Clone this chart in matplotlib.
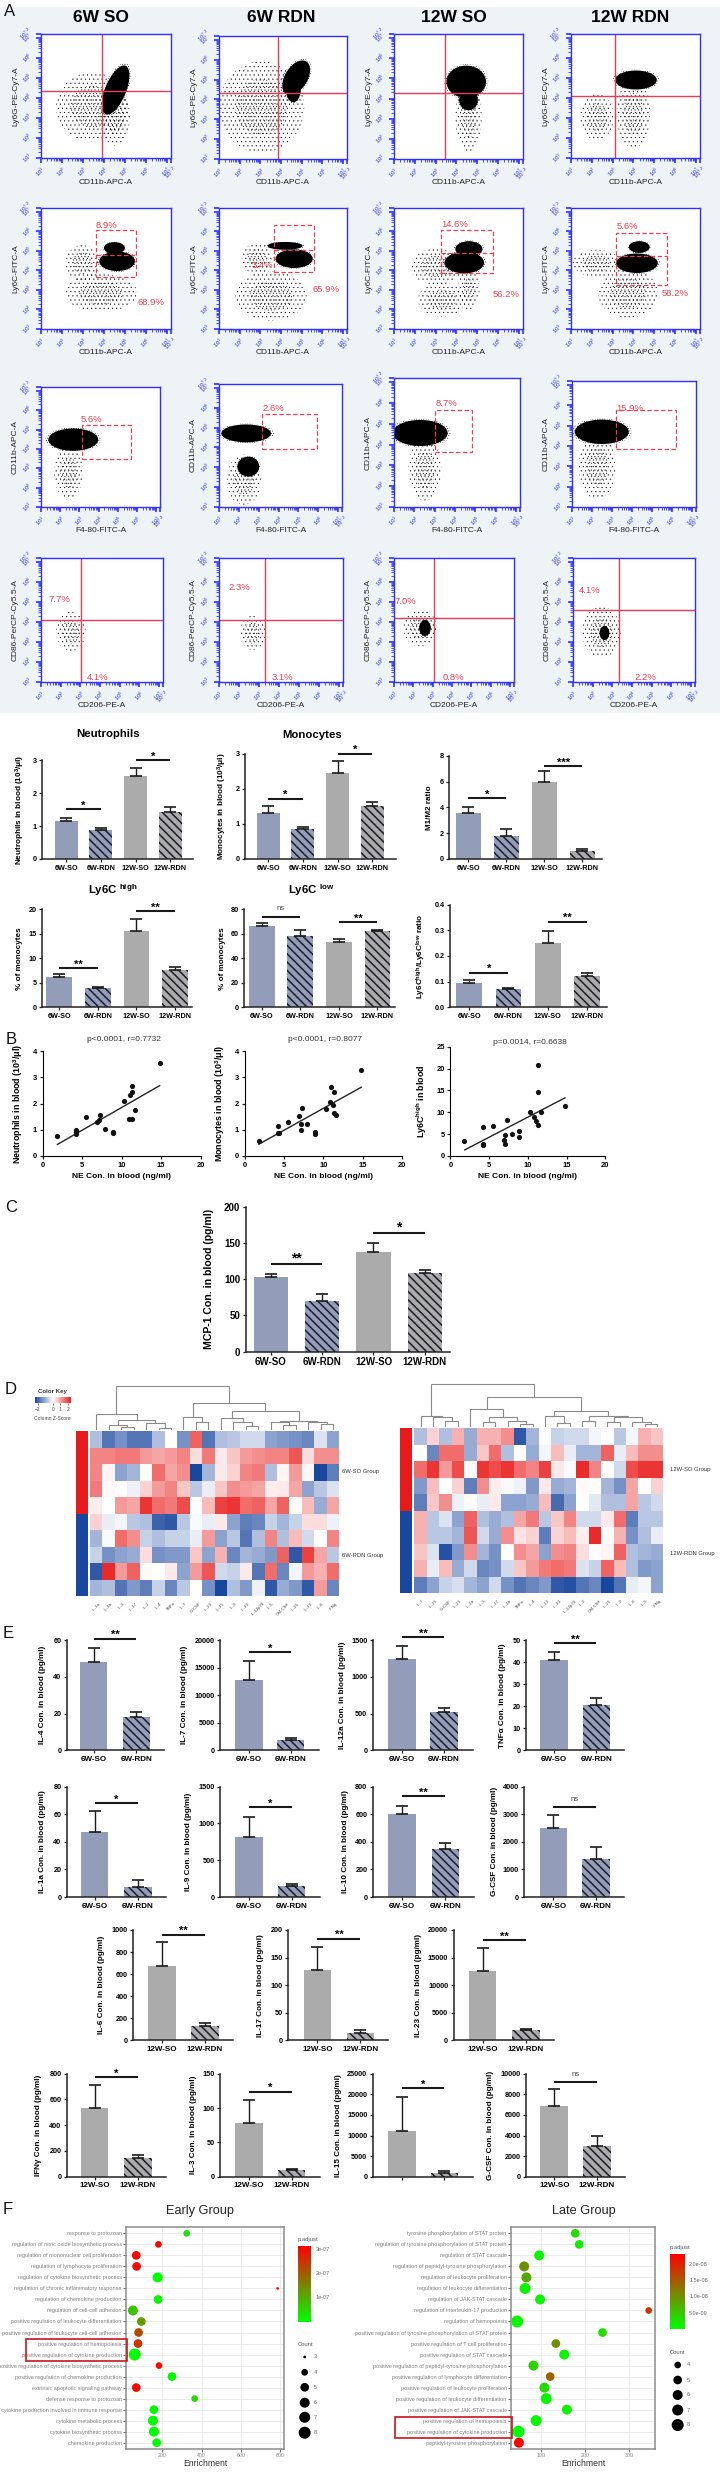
import warnings
import numpy as np
import matplotlib
matplotlib.use("Agg")
import matplotlib.pyplot as plt
from matplotlib.colors import LinearSegmentedColormap, Normalize
from matplotlib.cm import ScalarMappable
from matplotlib.patches import Ellipse, Rectangle

warnings.filterwarnings("ignore")

plt.rcParams["font.family"] = ["Liberation Sans", "DejaVu Sans"]
plt.rcParams["mathtext.fontset"] = "custom"
plt.rcParams["mathtext.rm"] = "Liberation Sans"
plt.rcParams["mathtext.bf"] = "Liberation Sans:bold"
plt.rcParams["mathtext.it"] = "Liberation Sans:italic"
plt.rcParams["hatch.linewidth"] = 1.1

W, H = 720, 2474
ZX = 720 / 1568  # full width crops were read on a 1568 wide scale

# ---- flow cytometry panels, values in decades
titles = ["6W SO", "6W RDN", "12W SO", "12W RDN"]

row1_dense = [
    [(4.56, 4.4, 1.0, 2.6, -21)],
    [(4.74, 5.1, 1.1, 1.9, -30), (4.6, 4.46, 0.7, 1.2, 0)],
    [(4.47, 4.83, 1.9, 1.6, 0), (4.58, 3.92, 0.9, 1.0, 0)],
    [(4.12, 4.9, 2.0, 0.95, 0)],
]
row1_sparse = [
    [(3.44, 3.56, 3.0, 3.0, 0), (4.55, 3.06, 1.2, 2.5, 0)],
    [(3.06, 3.62, 3.6, 4.0, 0)],
    [(4.58, 3.09, 1.1, 3.0, 0)],
    [(4.0, 3.22, 1.4, 3.0, 0), (2.25, 3.05, 1.4, 2.0, 0)],
]
row1_cross = [(3.9, 4.35), (3.86, 4.34), (3.43, 4.27), (3.13, 4.09)]

row2_dense = [
    [(4.63, 4.47, 1.7, 1.0, 0), (4.5, 5.15, 1.0, 0.6, 0)],
    [(4.64, 4.6, 1.8, 0.95, 0), (4.2, 5.26, 1.7, 0.4, 0)],
    [(4.38, 4.4, 1.9, 1.1, 0), (4.6, 5.1, 1.3, 0.8, 0)],
    [(4.17, 4.37, 2.0, 1.0, 0), (4.28, 5.2, 1.0, 0.6, 0)],
]
row2_sparse = [
    [(3.86, 2.85, 3.0, 1.7, 0), (2.98, 4.38, 1.4, 1.6, 0)],
    [(3.52, 2.7, 3.0, 2.2, 0), (2.85, 4.6, 1.3, 1.4, 0)],
    [(4.6, 3.04, 0.9, 1.8, 0), (3.04, 4.2, 2.2, 1.6, 0), (3.3, 2.5, 2.0, 1.5, 0)],
    [(3.74, 2.84, 2.5, 2.2, 0), (2.23, 4.37, 2.0, 1.2, 0)],
]
row2_gates = [
    (3.6, 5.53, 3.67, 6.06, 4.81),
    (3.66, 5.6, 3.93, 6.32, 5.05),
    (3.27, 5.76, 3.85, 6.08, 4.88),
    (3.16, 5.62, 3.25, 5.94, 4.74),
]
row2_labels = [
    [("8.9%", 4.14, 6.32), ("68.9%", 6.27, 2.37)],
    [("3.4%", 3.08, 4.27), ("65.9%", 6.16, 3.01)],
    [("14.6%", 3.93, 6.35), ("56.2%", 6.38, 2.75)],
    [("5.6%", 3.7, 6.25), ("58.2%", 6.01, 2.84)],
]

row3_dense = [
    [(2.68, 4.48, 2.6, 1.15, 0)],
    [(2.37, 4.71, 2.5, 0.9, 0), (2.48, 3.04, 1.1, 1.0, 0)],
    [(2.29, 4.56, 2.7, 1.25, 0)],
    [(2.49, 4.7, 2.7, 1.2, 0)],
]
row3_sparse = [
    [(2.44, 2.76, 1.3, 2.4, 0)],
    [(2.25, 2.37, 1.5, 2.2, 0)],
    [(2.52, 2.8, 1.4, 2.6, 0)],
    [(2.26, 2.99, 1.6, 2.8, 0)],
]
row3_gates = [
    (3.12, 5.69, 3.5, 5.24, None),
    (3.18, 5.95, 3.91, 5.67, None),
    (3.04, 4.85, 3.64, 5.68, None),
    (3.18, 6.22, 3.84, 5.77, None),
]
row3_labels = [
    [("5.6%", 3.64, 5.52)],
    [("2.6%", 3.75, 5.95)],
    [("8.7%", 3.58, 5.97)],
    [("15.9%", 3.87, 5.86)],
]

row4_dense = [[], [], [(2.6, 3.7, 0.6, 0.8, 0)], [(2.6, 3.45, 0.5, 0.7, 0)]]
row4_sparse = [
    [(2.52, 3.53, 1.3, 1.7, 0)],
    [(2.68, 3.45, 1.1, 1.5, 0)],
    [(2.35, 3.7, 1.5, 1.6, 0)],
    [(2.45, 3.49, 1.7, 2.2, 0)],
]
row4_cross = [(3.04, 4.12), (3.32, 4.08), (3.08, 4.18), (3.34, 4.59)]
row4_labels = [
    [("7.7%", 1.94, 5.15), ("4.1%", 3.86, 1.2)],
    [("2.3%", 2.03, 5.72), ("3.1%", 4.15, 1.2)],
    [("7.0%", 1.61, 5.02), ("0.8%", 4.07, 1.2)],
    [("4.1%", 1.84, 5.56), ("2.2%", 4.68, 1.2)],
]

# ---- bar panels
groups4 = ["6W-SO", "6W-RDN", "12W-SO", "12W-RDN"]
groups6w = ["6W-SO", "6W-RDN"]
groups12w = ["12W-SO", "12W-RDN"]

neut_vals, neut_tops = [1.15, 0.87, 2.52, 1.44], [1.25, 0.95, 2.78, 1.58]
neut_sig = [(0, 1, 1.51, "*"), (2, 3, 3.0, "*")]
mono_vals, mono_tops = [1.3, 0.85, 2.45, 1.5], [1.5, 0.92, 2.78, 1.63]
mono_sig = [(0, 1, 1.72, "*"), (2, 3, 3.0, "*")]
m1m2_vals, m1m2_tops = [3.6, 1.8, 5.97, 0.6], [4.05, 2.3, 6.8, 0.8]
m1m2_sig = [(0, 1, 4.72, "*"), (2, 3, 7.2, "***")]
high_vals, high_tops = [6.1, 3.9, 15.6, 7.6], [6.8, 4.2, 18.0, 8.3]
high_sig = [(0, 1, 8.0, "**"), (2, 3, 19.65, "**")]
low_vals, low_tops = [66, 58.5, 53, 62], [69, 63.5, 55.5, 63.5]
low_sig = [(0, 1, 74, "ns"), (2, 3, 69.5, "**")]
ratio_vals, ratio_tops = [0.095, 0.07, 0.25, 0.123], [0.105, 0.075, 0.298, 0.135]
ratio_sig = [(0, 1, 0.135, "*"), (2, 3, 0.334, "**")]
mcp_vals, mcp_tops = [103, 70, 138, 108], [106.5, 80, 150.5, 112.5]
mcp_sig = [(0, 1, 120.7, "**"), (2, 3, 164.3, "*")]

il4_vals, il4_tops = [48, 18.3], [56, 21]
il7_vals, il7_tops = [12700, 1950], [16200, 2200]
il12_vals, il12_tops = [1250, 520], [1420, 580]
tnf_vals, tnf_tops = [41, 20.5], [44.5, 23.8]
il1a_vals, il1a_tops = [47, 7], [62.5, 12]
il9_vals, il9_tops = [820, 155], [1090, 180]
il10_vals, il10_tops = [605, 350], [660, 390]
gcsf6_vals, gcsf6_tops = [2500, 1370], [2980, 1810]
il6_vals, il6_tops = [678, 130], [895, 155]
il17_vals, il17_tops = [127, 14], [169, 18]
il23_vals, il23_tops = [12600, 1800], [16700, 2100]
ifn_vals, ifn_tops = [530, 145], [712, 165]
il3_vals, il3_tops = [78.5, 9.5], [112, 11.5]
il15_vals, il15_tops = [11200, 1000], [19300, 1350]
gcsf12_vals, gcsf12_tops = [6850, 3000], [8550, 4000]

# ---- correlation panels
ne_neut = [1.8, 4.2, 4.2, 4.25, 5.5, 6.9, 7.15, 7.3, 7.85, 8.9, 8.9, 10.3, 10.9, 11.3, 11.05, 11.3, 11.3, 11.7, 14.8]
neut_y = [0.77, 1.0, 0.93, 0.85, 1.5, 1.3, 1.37, 1.56, 1.03, 0.91, 0.89, 2.1, 1.4, 1.42, 2.32, 2.43, 2.67, 1.74, 3.56]
neut_fit_x, neut_fit_y = [1.86, 14.8], [0.44, 2.68]
ne_mono = [1.8, 4.2, 4.2, 4.3, 5.5, 6.9, 7.1, 7.1, 7.3, 7.85, 8.9, 8.9, 10.3, 10.85, 11.0, 11.3, 11.25, 11.35, 11.65, 14.8]
mono_y = [0.56, 1.13, 0.87, 0.87, 1.29, 1.54, 1.21, 0.99, 1.81, 1.21, 0.93, 0.85, 1.78, 2.04, 2.62, 2.43, 1.95, 1.62, 1.57, 3.28]
mono_fit_x, mono_fit_y = [1.8, 14.8], [0.45, 2.62]
ne_ly6c = [1.8, 4.2, 4.2, 4.25, 5.5, 6.9, 7.05, 7.05, 7.3, 7.9, 8.9, 8.9, 10.3, 10.85, 11.0, 11.3, 11.3, 11.3, 11.7, 14.8]
ly6c_y = [3.35, 6.7, 2.65, 2.45, 6.85, 3.6, 4.7, 2.8, 8.15, 5.0, 5.7, 4.4, 10.1, 8.9, 8.1, 7.1, 20.7, 14.6, 10.0, 11.4]
ly6c_fit_x, ly6c_fit_y = [1.85, 14.8], [1.4, 13.3]

# ---- heatmaps
cols_6w = ["IL-1a", "IL-1b", "IL-3", "IL-17", "IL-2", "IL-4", "TNFa", "IL-7", "G-CSF", "IL-23",
           "IL-15", "IL-9", "IL-10", "IL-12p70", "IL-5", "GM-CSF", "IL-21", "IL-13", "IL-6", "IFNg"]
cols_12w = ["IL-7", "IL-15", "G-CSF", "IL-23", "IL-1a", "IL-3", "IL-17", "IL-1b", "TNFa", "IL-4",
            "IL-13", "IL-10", "IL-12p70", "IL-2", "GM-CSF", "IL-21", "IL-9", "IL-6", "IL-5", "IFNg"]
z_6w = [
    [-.7, -1.5, -1.2, -1.5, -1.5, -.7, 0, -1.2, 1.4, -1.5, -.7, -.6, -.4, -.4, -1, -1.1, -1.2, -1.3, -.3, -1],
    [1.1, 1.1, 1.2, 1.2, .9, .8, .9, 1.1, .3, 1.2, .2, .5, .9, 1, 1.1, 1.1, 1.5, .3, 1, 1],
    [1.1, .1, -1, -.8, 0, 1.3, .8, 1, -2, -.8, .2, .4, 1.1, 1.2, -.7, .1, .9, .07, -2, -1.4],
    [1.2, .05, 0, -.15, .4, .9, 1.1, .5, -.6, -.2, .5, 1, .9, .8, .15, .2, .8, -1, -.6, -.3],
    [.15, 0, .9, .8, 1.8, 1.3, 1.2, 1.6, 0, .6, 1.7, 1.8, 1.3, 1.4, .8, 1.4, .03, .6, -.9, .8],
    [.4, -.2, -.1, -.6, -.7, -1.7, -1.8, -.6, -.05, -.2, .2, -1, -1.4, -1.3, -.5, -.8, -.5, .3, .3, -.15],
    [-.8, -.05, 1.3, 1, -.5, -.7, -.5, -.5, -.2, .9, -1, -.6, -1.5, -.7, 1.1, -.7, .6, -.4, 0, 1.1],
    [-.5, -1.2, -1, -.9, .3, -1.2, -1.1, -1.1, .5, -1, .7, -1.3, -.8, -.9, -1.1, 1.4, -1.8, 1.7, .8, -.6],
    [-1.8, 1.9, .9, 1.4, .05, 0, .2, -1, .9, 1.5, -.4, -.5, .2, -1.5, 1.3, -1.3, -.1, .9, .7, 1.3],
    [-.8, -.7, -1.5, -1.1, -1.4, -.5, -1.3, -.6, 0, -1.2, -2, -.7, -1.1, -.15, -1.8, -.9, -1.1, -1.8, .9, -1.3],
]
z_12w = [
    [-.7, .4, -.7, .7, -.9, .7, .7, 1, -1.8, -.8, -.03, -.5, -.4, -.4, -.1, 0, -.6, -.1, .7, .5],
    [0, -1.3, 1.3, 1.3, -.9, .5, 1.3, -.7, 0, -.9, -.1, .6, -.2, -.8, -.8, 1.4, -.2, .6, 1, 1],
    [1.3, 1.8, .9, 1.6, -.05, 1.8, 1.6, 1.8, 1.3, 1.1, 1.7, .2, -.05, 1.9, 1.1, .03, -.4, 1.6, 1.8, 1.8],
    [-1.1, .6, 0, .4, -1.4, 1, .15, -.07, -.15, -1.1, .2, -.9, -.8, .04, .02, -.8, -1.2, .8, 0, .4],
    [-1.4, .5, 1, -.15, .03, -.2, .2, -1, -1, -.9, .6, -1.6, -1, 0, -.25, -.7, -.7, .8, -.6, -.4],
    [.7, -.6, -.3, -1, 1.4, -.7, -.9, -.7, .8, 1.2, -.6, .5, 1.1, -.4, -.4, .2, 1.3, -1.4, -.6, -.6],
    [.7, -.6, -.6, -.8, 1.5, -.4, -.9, 1, .25, .4, -1.4, .4, .6, .15, 1.9, .04, .7, -1.2, -.7, -.2],
    [.5, -.3, -1.9, -1.1, 1, -.8, -1.2, .02, 1, .8, -1, 1, 1.1, .3, 0, .1, 1.4, -.7, -.8, -.9],
    [.7, -.2, .6, -.9, -.4, -1.3, -1.2, -.4, .5, .9, 1.2, 1.3, 1.2, -.3, -.5, 1.4, .6, -.7, -1.1, -1],
    [-1.4, -1, -.5, -.35, -.8, -1, -.4, -1.2, -1.5, -1.3, -1.1, -1.8, -1.9, -1.5, -1.3, -2, -1.5, -.2, -.1, -1],
]
# (merge height, left, right), leaves are column numbers
tree_6w = (130, (48, 0, (30, (15, 1, (8, 2, 3)), (21, 4, (6, 5, 6)))),
           (78, (38, 7, (23, 8, 9)),
            (56, (36, 10, (23, 11, (12, 12, 13))),
             (26, (23, 14, (15, 15, 16)), (23, 17, (16, 18, 19))))))
tree_12w = (127, (32, 0, (28, 1, (18, 2, 3))),
            (88, (52, 4, (28, (15, 5, 6), (18, 7, (7, 8, 9)))),
             (48, (32, 10, (12, 11, 12)),
              (32, (18, 13, 14), (30, (15, 15, 16), (15, 17, (8, 18, 19)))))))

# ---- enrichment dot plots
early_terms = ["response to protozoan", "regulation of nitric oxide biosynthetic process",
               "regulation of mononuclear cell proliferation", "regulation of lymphocyte proliferation",
               "regulation of cytokine biosynthetic process", "regulation of chronic inflammatory response",
               "regulation of chemokine production", "regulation of cell-cell adhesion",
               "positive regulation of leukocyte differentiation", "positive regulation of leukocyte cell-cell adhesion",
               "positive regulation of hemopoiesis", "positive regulation of cytokine production",
               "positive regulation of cytokine biosynthetic process", "positive regulation of chemokine production",
               "extrinsic apoptotic signaling pathway", "defense response to protozoan",
               "cytokine production involved in immune response", "cytokine metabolic process",
               "cytokine biosynthetic process", "chemokine production"]
early_enrich = [324, 180, 67, 69, 176, 788, 178, 50, 93, 79, 76, 59, 183, 249, 67, 365, 157, 152, 157, 171]
early_count = [4, 4, 5, 5, 6, 3, 5, 6, 5, 5, 5, 8, 4, 5, 5, 4, 5, 6, 6, 5]
early_padj = [.4e-7, 3e-7, 3e-7, 3e-7, 0, 3e-7, .1e-7, .7e-7, 1.2e-7, 2.2e-7,
              2.5e-7, 0, 3e-7, .1e-7, 3e-7, .5e-7, .05e-7, 0, 0, .05e-7]

late_terms = ["tyrosine phosphorylation of STAT protein", "regulation of tyrosine phosphorylation of STAT protein",
              "regulation of STAT cascade", "regulation of peptidyl-tyrosine phosphorylation",
              "regulation of leukocyte proliferation", "regulation of leukocyte differentiation",
              "regulation of JAK-STAT cascade", "regulation of interleukin-17 production",
              "regulation of hemopoiesis", "positive regulation of tyrosine phosphorylation of STAT protein",
              "positive regulation of T cell proliferation", "positive regulation of STAT cascade",
              "positive regulation of peptidyl-tyrosine phosphorylation", "positive regulation of lymphocyte differentiation",
              "positive regulation of leukocyte proliferation", "positive regulation of leukocyte differentiation",
              "positive regulation of JAK-STAT cascade", "positive regulation of hemopoiesis",
              "positive regulation of cytokine production", "peptidyl-tyrosine phosphorylation"]
late_enrich = [177, 186, 95, 61, 66, 63, 97, 344, 45, 239, 133, 152, 82, 120, 107, 111, 158, 88, 48, 49]
late_count = [5, 5, 6, 6, 6, 7, 6, 4, 8, 5, 5, 6, 6, 5, 6, 7, 6, 7, 8, 6]
late_padj = [.3e-8, .2e-8, .1e-8, 1.0e-8, .8e-8, .1e-8, .1e-8, 1.8e-8, .1e-8, .3e-8,
             1.0e-8, .1e-8, .4e-8, 1.4e-8, .3e-8, .1e-8, .1e-8, .1e-8, 0, 2.28e-8]

# ---- drawing
BLUE = "#939db9"
GREY = "#ababab"
FLOW = "#2f2fff"
RED = "#ee3b55"
DOT_DIAM = {3: 2.7, 4: 6.7, 5: 8.7, 6: 10, 7: 11, 8: 12}  # px

fig = plt.figure(figsize=(W / 100, H / 100), dpi=100, facecolor="white")
fig.add_artist(Rectangle((0, 1 - 713 / H), 1, 706 / H, transform=fig.transFigure,
                         facecolor="#eef3f6", edgecolor="none", zorder=-5))


def axes_px(x0, y0, x1, y1, **kw):
    return fig.add_axes([x0 / W, 1 - y1 / H, (x1 - x0) / W, (y1 - y0) / H], **kw)


ov = axes_px(0, 0, W, H, zorder=20)
ov.set_xlim(0, W)
ov.set_ylim(H, 0)
ov.axis("off")
ov.patch.set_alpha(0)


class Stipple(Ellipse):
    # fine dots, the bar stripes keep the thick hatch line
    def draw(self, renderer):
        with plt.rc_context({"hatch.linewidth": 0.3}):
            super().draw(renderer)


def stipple(ax, cx, cy, w, h, ang, pattern):
    with plt.rc_context({"hatch.linewidth": 0.3}):
        ax.add_patch(Stipple((cx, cy), w, h, angle=ang, facecolor="none", edgecolor="#111111",
                             hatch=pattern, linewidth=0))


def flow_panel(box, dense, sparse, xlabel, ylabel, cross=None, gate=None, labels=()):
    x0, y0, x1, y1 = box
    ax = axes_px(x0, y0, x1, y1, facecolor="white")
    ax.set_xlim(1, 7.2)
    ax.set_ylim(1, 7.2)
    for cx, cy, w, h, ang in sparse:
        stipple(ax, cx, cy, w * 1.15, h * 1.15, ang, "....")
        stipple(ax, cx, cy, w * 0.7, h * 0.7, ang, ".....")
    for cx, cy, w, h, ang in dense:
        stipple(ax, cx, cy, w * 1.12, h * 1.1, ang, ".......")
        ax.add_patch(Ellipse((cx, cy), w, h, angle=ang, facecolor="black", edgecolor="none"))
    if cross is not None:
        ax.axvline(cross[0], color=RED, lw=1)
        ax.axhline(cross[1], color=RED, lw=1)
    if gate is not None:
        g0, g1, g2, g3, mid = gate
        ax.add_patch(Rectangle((g0, g2), g1 - g0, g3 - g2, fill=False, edgecolor=RED, lw=0.9, ls=(0, (3.5, 2))))
        if mid is not None:
            ax.plot([g0, g1], [mid, mid], color=RED, lw=0.9, ls=(0, (3.5, 2)))
    for text, tx, ty in labels:
        ax.text(tx, ty, text, color=RED, fontsize=6.8, ha="center", va="center", clip_on=False)
    major = [1, 2, 3, 4, 5, 6, 7, 7.2]
    minor = [d + np.log10(k) for d in range(1, 7) for k in range(2, 10)]
    names = ["$10^{%s}$" % m for m in [1, 2, 3, 4, 5, 6, 7, 7.2]]
    for axis in (ax.xaxis, ax.yaxis):
        axis.set_ticks(major)
        axis.set_ticks(minor, minor=True)
    ax.set_xticklabels(names, rotation=45, fontsize=4.4, color=FLOW, ha="center")
    ax.set_yticklabels(names, rotation=45, fontsize=4.4, color=FLOW, va="center")
    ax.tick_params(which="major", length=3.5, width=1.2, color=FLOW, pad=1)
    ax.tick_params(which="minor", length=2.5, width=0.6, color=FLOW)
    for s in ax.spines.values():
        s.set_color(FLOW)
        s.set_linewidth(1)
    ax.set_xlabel(xlabel, fontsize=6, color="#222222")
    ax.set_ylabel(ylabel, fontsize=6, color="#222222")
    ax.xaxis.set_label_coords(0.5, -20.5 / (y1 - y0))
    ax.yaxis.set_label_coords(-22 / (x1 - x0), 0.5)


flow_x = [(41, 171), (219, 347), (394, 523), (571, 700)]
row1_y = [(34, 158), (36, 159), (34, 159), (34, 158)]
for i in range(4):
    flow_panel((flow_x[i][0], row1_y[i][0], flow_x[i][1], row1_y[i][1]), row1_dense[i], row1_sparse[i],
               "CD11b-APC-A", "Ly6G-PE-Cy7-A", cross=row1_cross[i])
    ov.text(flow_x[i][0] + [60, 62, 60, 59][i], 18, titles[i], fontsize=12.5, fontweight="bold",
            ha="center", va="center")
    flow_panel((flow_x[i][0], 208, flow_x[i][1], 329), row2_dense[i], row2_sparse[i],
               "CD11b-APC-A", "Ly6C-FITC-A", gate=row2_gates[i], labels=row2_labels[i])
row3_x = [(41, 160), (219, 342), (394, 520), (572, 696)]
row3_top = [387, 384, 378, 381]
for i in range(4):
    flow_panel((row3_x[i][0], row3_top[i], row3_x[i][1], 507), row3_dense[i], row3_sparse[i],
               "F4-80-FITC-A", "CD11b-APC-A", gate=row3_gates[i], labels=row3_labels[i])
row4_x = [(41, 163), (219, 343), (394, 514), (573, 695)]
for i in range(4):
    flow_panel((row4_x[i][0], 558, row4_x[i][1], 682), row4_dense[i], row4_sparse[i],
               "CD206-PE-A", "CD86-PerCP-Cy5.5-A", cross=row4_cross[i], labels=row4_labels[i])


def bar_panel(xs, ytop, ybot, ticks, ylabel, cats, vals, tops, sig, colors, labx, big=False,
              ticklabels=True, tickfmt=None):
    # xs: axis left, axis right, first bar, last bar, bar width, read on the 1568 scale
    left, right, c0, c1, bw = [v * ZX for v in xs]
    ax = axes_px(left, ytop, right, ybot)
    ax.patch.set_alpha(0)
    n = len(vals)
    step = (c1 - c0) / (n - 1)
    ax.set_xlim((left - c0) / step, (right - c0) / step)
    ax.set_ylim(0, ticks[-1])
    pos = np.arange(n)
    for p, v, c in zip(pos, vals, colors):
        hatched = p % 2 == 1
        ax.bar(p, v, width=bw / step, color=c, edgecolor="#1d1d2a" if hatched else c,
               hatch="\\\\\\\\" if hatched else None, linewidth=0)
    err = np.array(tops) - np.array(vals)
    ax.errorbar(pos, vals, yerr=[np.zeros(n), err], fmt="none", ecolor="#1a1a1a",
                elinewidth=1.0, capsize=4.6 if big else 4.0, capthick=1.2)
    for a, b, y, txt in sig:
        ax.plot([a, b], [y, y], color="#1a1a1a", lw=1.5, clip_on=False, solid_capstyle="butt")
        if txt == "ns":
            ax.annotate(txt, ((a + b) / 2, y), xytext=(0, 3), textcoords="offset points", ha="center",
                        va="bottom", fontsize=5.5, color="#444444", annotation_clip=False)
        else:
            ax.annotate(txt, ((a + b) / 2, y), xytext=(0, -1), textcoords="offset points", ha="center",
                        va="bottom", fontsize=10 if big else 8, fontweight="bold", annotation_clip=False)
    for s in ("top", "right"):
        ax.spines[s].set_visible(False)
    for s in ("left", "bottom"):
        ax.spines[s].set_linewidth(1.1)
        ax.spines[s].set_color("#222222")
    ax.set_yticks(ticks)
    ax.set_yticklabels([(tickfmt or "{:g}").format(t) for t in ticks], fontsize=7 if big else 5.2,
                       fontweight="bold")
    ax.set_xticks(pos)
    xfs = 7 if big else (5.2 if n == 4 else 5.8)
    ax.set_xticklabels(cats if ticklabels else [""] * n, fontsize=xfs, fontweight="bold")
    ax.tick_params(length=2.5, width=0.9, pad=1.5, color="#222222")
    ax.set_ylabel(ylabel, fontsize=7.6 if big else 5.9, fontweight="bold")
    ax.yaxis.set_label_coords((labx * ZX - left) / (right - left), 0.5)
    return ax


mix = [BLUE, BLUE, GREY, GREY]
b6 = [BLUE, BLUE]
g12 = [GREY, GREY]

bar_panel((92, 420, 144, 371, 50), 760.3, 859, [0, 1, 2, 3], "Neutrophils in blood (10$^{\\mathbf{3}}$/\u03bcl)",
          groups4, neut_vals, neut_tops, neut_sig, mix, 58)
bar_panel((534, 862, 584, 811, 50), 753.7, 859, [0, 1, 2, 3], "Monocytes in blood (10$^{\\mathbf{3}}$/\u03bcl)",
          groups4, mono_vals, mono_tops, mono_sig, mix, 498)
bar_panel((978, 1310, 1020, 1268, 55), 755.7, 859, [0, 2, 4, 6, 8], "M1/M2 ratio",
          groups4, m1m2_vals, m1m2_tops, m1m2_sig, mix, 944)
bar_panel((92, 418, 129, 381, 56), 909.3, 1007.3, [0, 5, 10, 15, 20], "% of monocytes",
          groups4, high_vals, high_tops, high_sig, mix, 51)
bar_panel((532, 860, 570, 822, 56), 909.3, 1007.3, [0, 20, 40, 60, 80], "% of monocytes",
          groups4, low_vals, low_tops, low_sig, mix, 492)
bar_panel((980, 1322, 1022, 1278, 56), 904.7, 1007.3, [0, .1, .2, .3, .4],
          "Ly6C$^{\\mathbf{high}}$/Ly6C$^{\\mathbf{low}}$ ratio", groups4, ratio_vals, ratio_tops, ratio_sig, mix,
          932, tickfmt="{:.1f}")
bar_panel((535, 980, 590, 925, 75), 1206.7, 1351.7, [0, 50, 100, 150, 200], "MCP-1 Con. in blood (pg/ml)",
          groups4, mcp_vals, mcp_tops, mcp_sig, mix, 466, big=True)

ov.text(108, 734, "Neutrophils", fontsize=8.2, fontweight="bold", ha="center", va="center")
ov.text(312, 735, "Monocytes", fontsize=8.2, fontweight="bold", ha="center", va="center")
ov.text(113, 890, "Ly6C $^{\\mathbf{high}}$", fontsize=8.2, fontweight="bold", ha="center", va="center")
ov.text(311, 890, "Ly6C $^{\\mathbf{low}}$", fontsize=8.2, fontweight="bold", ha="center", va="center")

e_rows = [
    (1640.3, 1750.3, [
        ((146, 358, 204, 297, 60), [0, 20, 40, 60], "IL-4 Con. in blood (pg/ml)", il4_vals, il4_tops, [(0, 1, 60.9, "**")], 100),
        ((480, 695, 542, 633, 60), [0, 5000, 10000, 15000, 20000], "IL-7 Con. in blood (pg/ml)", il7_vals, il7_tops, [(0, 1, 17800, "*")], 409),
        ((812, 1030, 875, 967, 60), [0, 500, 1000, 1500], "IL-12a Con. in blood (pg/ml)", il12_vals, il12_tops, [(0, 1, 1541, "**")], 753),
        ((1146, 1360, 1207, 1299, 60), [0, 10, 20, 30, 40, 50], "TNF\u03b1 Con. in blood (pg/ml)", tnf_vals, tnf_tops, [(0, 1, 48.6, "**")], 1102),
    ], groups6w, b6),
    (1786.7, 1897, [
        ((146, 362, 206, 300, 60), [0, 20, 40, 60, 80], "IL-1a Con. in blood (pg/ml)", il1a_vals, il1a_tops, [(0, 1, 67.9, "*")], 100),
        ((480, 697, 542, 635, 60), [0, 500, 1000, 1500], "IL-9 Con. in blood (pg/ml)", il9_vals, il9_tops, [(0, 1, 1219, "*")], 418),
        ((812, 1032, 876, 970, 60), [0, 200, 400, 600, 800], "IL-10 Con. in blood (pg/ml)", il10_vals, il10_tops, [(0, 1, 730, "**")], 760),
        ((1142, 1358, 1205, 1298, 60), [0, 1000, 2000, 3000, 4000], "G-CSF Con. in blood (pg/ml)", gcsf6_vals, gcsf6_tops, [(0, 1, 3250, "ns")], 1084),
    ], groups6w, b6),
    (1930, 2040.3, [
        ((290, 508, 353, 446, 60), [0, 200, 400, 600, 800, 1000], "IL-6 Con. in blood (pg/ml)", il6_vals, il6_tops, [(0, 1, 958, "**")], 229),
        ((628, 846, 691, 785, 60), [0, 50, 100, 150, 200], "IL-17 Con. in blood (pg/ml)", il17_vals, il17_tops, [(0, 1, 184, "**")], 576),
        ((988, 1206, 1051, 1145, 60), [0, 5000, 10000, 15000, 20000], "IL-23 Con. in blood (pg/ml)", il23_vals, il23_tops, [(0, 1, 18100, "**")], 920),
    ], groups12w, g12),
    (2073.7, 2176.7, [
        ((146, 362, 206, 300, 60), [0, 200, 400, 600, 800], "IFN\u03b3 Con. in blood (pg/ml)", ifn_vals, ifn_tops, [(0, 1, 771, "*")], 92),
        ((480, 697, 542, 635, 60), [0, 50, 100, 150], "IL-3 Con. in blood (pg/ml)", il3_vals, il3_tops, [(0, 1, 124, "*")], 428),
        ((812, 1030, 875, 968, 60), [0, 5000, 10000, 15000, 20000, 25000], "IL-15 Con. in blood (pg/ml)", il15_vals, il15_tops, [(0, 1, 21450, "*")], 744),
        ((1146, 1362, 1207, 1300, 60), [0, 2000, 4000, 6000, 8000, 10000], "G-CSF Con. in blood (pg/ml)", gcsf12_vals, gcsf12_tops, [(0, 1, 9200, "ns")], 1075),
    ], groups12w, g12),
]
for r, (ytop, ybot, panels, cats, cols) in enumerate(e_rows):
    for k, (xs, ticks, lab, vals, tops, sig, labx) in enumerate(panels):
        bar_panel(xs, ytop, ybot, ticks, lab, cats, vals, tops, sig, cols, labx,
                  ticklabels=not (r == 3 and k == 2))


def corr_panel(xs, ytop, ybot, ymax, yticks, ylabel, x, y, fit_x, fit_y, title, title_y, labx):
    left, right = xs[0] * ZX, xs[1] * ZX
    ax = axes_px(left, ytop, right, ybot)
    ax.patch.set_alpha(0)
    ax.scatter(x, y, s=14, color="#111111", linewidths=0, zorder=3)
    ax.plot(fit_x, fit_y, color="#222222", lw=1)
    ax.set_xlim(0, 20)
    ax.set_ylim(0, ymax)
    ax.set_xticks([0, 5, 10, 15, 20])
    ax.set_yticks(yticks)
    ax.tick_params(length=2.5, width=0.9, pad=1.5, color="#222222")
    for t in ax.get_xticklabels() + ax.get_yticklabels():
        t.set_fontsize(5.4)
        t.set_fontweight("bold")
    for s in ("top", "right"):
        ax.spines[s].set_visible(False)
    ax.set_xlabel("NE Con. in blood (ng/ml)", fontsize=6, fontweight="bold", labelpad=3)
    ax.set_ylabel(ylabel, fontsize=6.4, fontweight="bold")
    ax.yaxis.set_label_coords((labx * ZX - left) / (right - left), 0.5)
    ov.text((left + right) / 2 + 2, title_y, title, fontsize=6, color="#333333",
            ha="center", va="center")


corr_panel((93, 437), 1051, 1156, 4, [0, 1, 2, 3, 4], "Neutrophils in blood (10$^{\\mathbf{3}}$/\u03bcl)",
           ne_neut, neut_y, neut_fit_x, neut_fit_y, "p<0.0001, r=0.7732", 1039.5, 54)
corr_panel((533, 876), 1051, 1156, 4, [0, 1, 2, 3, 4], "Monocytes in blood (10$^{\\mathbf{3}}$/\u03bcl)",
           ne_mono, mono_y, mono_fit_x, mono_fit_y, "p<0.0001, r=0.8077", 1039.5, 494)
corr_panel((981, 1318), 1046.7, 1156, 25, [0, 5, 10, 15, 20, 25], "Ly6C$^{\\mathbf{high}}$ in blood",
           ne_ly6c, ly6c_y, ly6c_fit_x, ly6c_fit_y, "p=0.0014, r=0.6638", 1042, 934)

heat_cmap = LinearSegmentedColormap.from_list("z", ["#1a479e", "#ffffff", "#e8201f"])


def draw_tree(ax, node):
    if not isinstance(node, tuple):
        return node + 0.5, 0
    h, a, b = node
    xa, ha = draw_tree(ax, a)
    xb, hb = draw_tree(ax, b)
    ax.plot([xa, xa, xb, xb], [ha, h, h, hb], color="#8a8a8a", lw=0.8, solid_joinstyle="miter")
    return (xa + xb) / 2, h


def heatmap(box, strip, z, cols, tree, maxh, group_names, name_x, name_ys):
    x0, y0, x1, y1 = box
    ax = axes_px(x0, y0, x1, y1)
    ax.pcolormesh(np.arange(21), np.arange(11), np.array(z), cmap=heat_cmap, vmin=-2, vmax=2)
    ax.set_ylim(10, 0)
    ax.set_yticks([])
    ax.set_xticks(np.arange(20) + 0.5)
    ax.set_xticklabels(cols, rotation=45, fontsize=3.2, color="#444444", ha="center", va="top")
    ax.tick_params(length=0, pad=4)
    for s in ax.spines.values():
        s.set_visible(False)
    sx = axes_px(strip[0], y0, strip[1], y1)
    sx.bar(0, [5, 5], bottom=[0, 5], width=1, color=["#e8191b", "#17479e"])
    sx.set_xlim(-0.5, 0.5)
    sx.set_ylim(10, 0)
    sx.axis("off")
    dx = axes_px(x0, y0 - 1.5 - 46, x1, y0 - 1.5)
    draw_tree(dx, tree)
    dx.set_xlim(0, 20)
    dx.set_ylim(0, maxh)
    dx.axis("off")
    for nm, ny in zip(group_names, name_ys):
        ov.text(name_x, ny, nm, fontsize=4.2, color="#333333", va="center")


heatmap((90, 1431, 339.3, 1596), (76, 87.7), z_6w, cols_6w, tree_6w, 138,
        ["6W-SO Group", "6W-RDN Group"], 342.5, [1471.7, 1555])
heatmap((414.3, 1428.3, 663.3, 1593.3), (400.3, 411.7), z_12w, cols_12w, tree_12w, 138,
        ["12W-SO Group", "12W-RDN Group"], 670.5, [1470, 1553])

key = axes_px(35, 1396.7, 71, 1403.3)
cb = fig.colorbar(ScalarMappable(Normalize(-2.35, 2.4), heat_cmap), cax=key, orientation="horizontal")
cb.set_ticks([-2, 0, 1, 2])
cb.ax.tick_params(labelsize=3.5, length=1.5, width=0.4, pad=1, labelcolor="#444444")
cb.outline.set_visible(False)
ov.text(52.7, 1391, "Color Key", fontsize=4.4, fontweight="bold", color="#333333", ha="center", va="center")
ov.text(52.7, 1419, "Column Z-Score", fontsize=3.6, color="#444444", ha="center", va="center")

green_red = LinearSegmentedColormap.from_list("padj", ["#00ff00", "#ff0000"])


def dotplot(box, terms, enrich, counts, padj, xlim, xticks, vmax, cbox, cticks, cnames, leg_counts, leg_x, leg_ys,
            title, title_x, ctitle_y, count_title_y, text_x):
    x0, y0, x1, y1 = box
    ax = axes_px(x0, y0, x1, y1)
    pos = np.arange(len(terms))[::-1]
    sizes = [(DOT_DIAM[c] * 0.72) ** 2 for c in counts]
    ax.set_axisbelow(True)
    ax.scatter(enrich, pos, s=sizes, c=padj, cmap=green_red, vmin=0, vmax=vmax, linewidths=0, zorder=3, clip_on=False)
    ax.set_xlim(*xlim)
    ax.set_ylim(-0.6, 19.55)
    ax.set_yticks(pos)
    ax.set_yticklabels(terms, fontsize=4, color="#808080")
    ax.set_xticks(xticks)
    ax.set_xticklabels([str(t) for t in xticks], fontsize=3.8, color="#808080")
    ax.tick_params(length=2, width=0.6, color="#555555", pad=1)
    ax.grid(True, color="#ececec", lw=0.7)
    for s in ax.spines.values():
        s.set_color("#8c8c8c")
        s.set_linewidth(1.1)
    ax.set_xlabel("Enrichment", fontsize=6.2, color="#333333", labelpad=0.5)
    ov.text(title_x, 2210.7, title, fontsize=9.2, color="#222222", ha="center", va="center")
    cx = axes_px(*cbox)
    cb = fig.colorbar(ScalarMappable(Normalize(0, vmax), green_red), cax=cx)
    cb.set_ticks(cticks)
    cb.set_ticklabels(cnames)
    cb.ax.tick_params(labelsize=4, length=1.5, width=0.4, color="white", labelcolor="#666666", pad=1.5)
    cb.outline.set_visible(False)
    ov.text(text_x, ctitle_y, "p.adjust", fontsize=4.2, color="#555555", va="center")
    ov.text(text_x, count_title_y, "Count", fontsize=4.2, color="#555555", va="center")
    ov.scatter([leg_x] * len(leg_counts), leg_ys, s=[(DOT_DIAM[c] * 0.72) ** 2 for c in leg_counts],
               color="black", linewidths=0)
    for c, ly in zip(leg_counts, leg_ys):
        ov.text(leg_x + 11, ly, str(c), fontsize=4, color="#666666", va="center", ha="center")


dotplot((126, 2227.3, 284.3, 2449.3), early_terms, early_enrich, early_count, early_padj, (14.7, 822),
        [200, 400, 600, 800], 3.125e-7, (297.7, 2245.7, 311.3, 2321.7), [1e-7, 2e-7, 3e-7],
        ["1e-07", "2e-07", "3e-07"], [3, 4, 5, 6, 7, 8], 304.7, [2357, 2372.3, 2387.3, 2402.7, 2417.3, 2432.7],
        "Early Group", 200, 2239, 2344, 298)
dotplot((511, 2227.3, 655.3, 2449.3), late_terms, late_enrich, late_count, late_padj, (31, 359),
        [100, 200, 300], 2.28e-8, (670, 2254.3, 685, 2329.3), [5e-9, 1e-8, 1.5e-8, 2e-8],
        ["5.0e-09", "1.0e-08", "1.5e-08", "2.0e-08"], [4, 5, 6, 7, 8], 677.7, [2365, 2380, 2395, 2410, 2425],
        "Late Group", 584, 2247, 2352, 670)

for rx0, ry0, rx1, ry1 in [(26, 2339, 127.3, 2360.7), (395.3, 2417, 512.3, 2438)]:
    ov.add_patch(Rectangle((rx0, ry0), rx1 - rx0, ry1 - ry0, fill=False, edgecolor="#c8141e", lw=1.2))

panel_letters = [("A", 10, 11), ("B", 11, 1039), ("C", 11, 1207), ("D", 11, 1389), ("E", 8, 1633), ("F", 8, 2209)]
for letter, lx, ly in panel_letters:
    ov.text(lx, ly, letter, fontsize=12, ha="center", va="center", color="#111111")

fig.savefig("out.png", dpi=100)
